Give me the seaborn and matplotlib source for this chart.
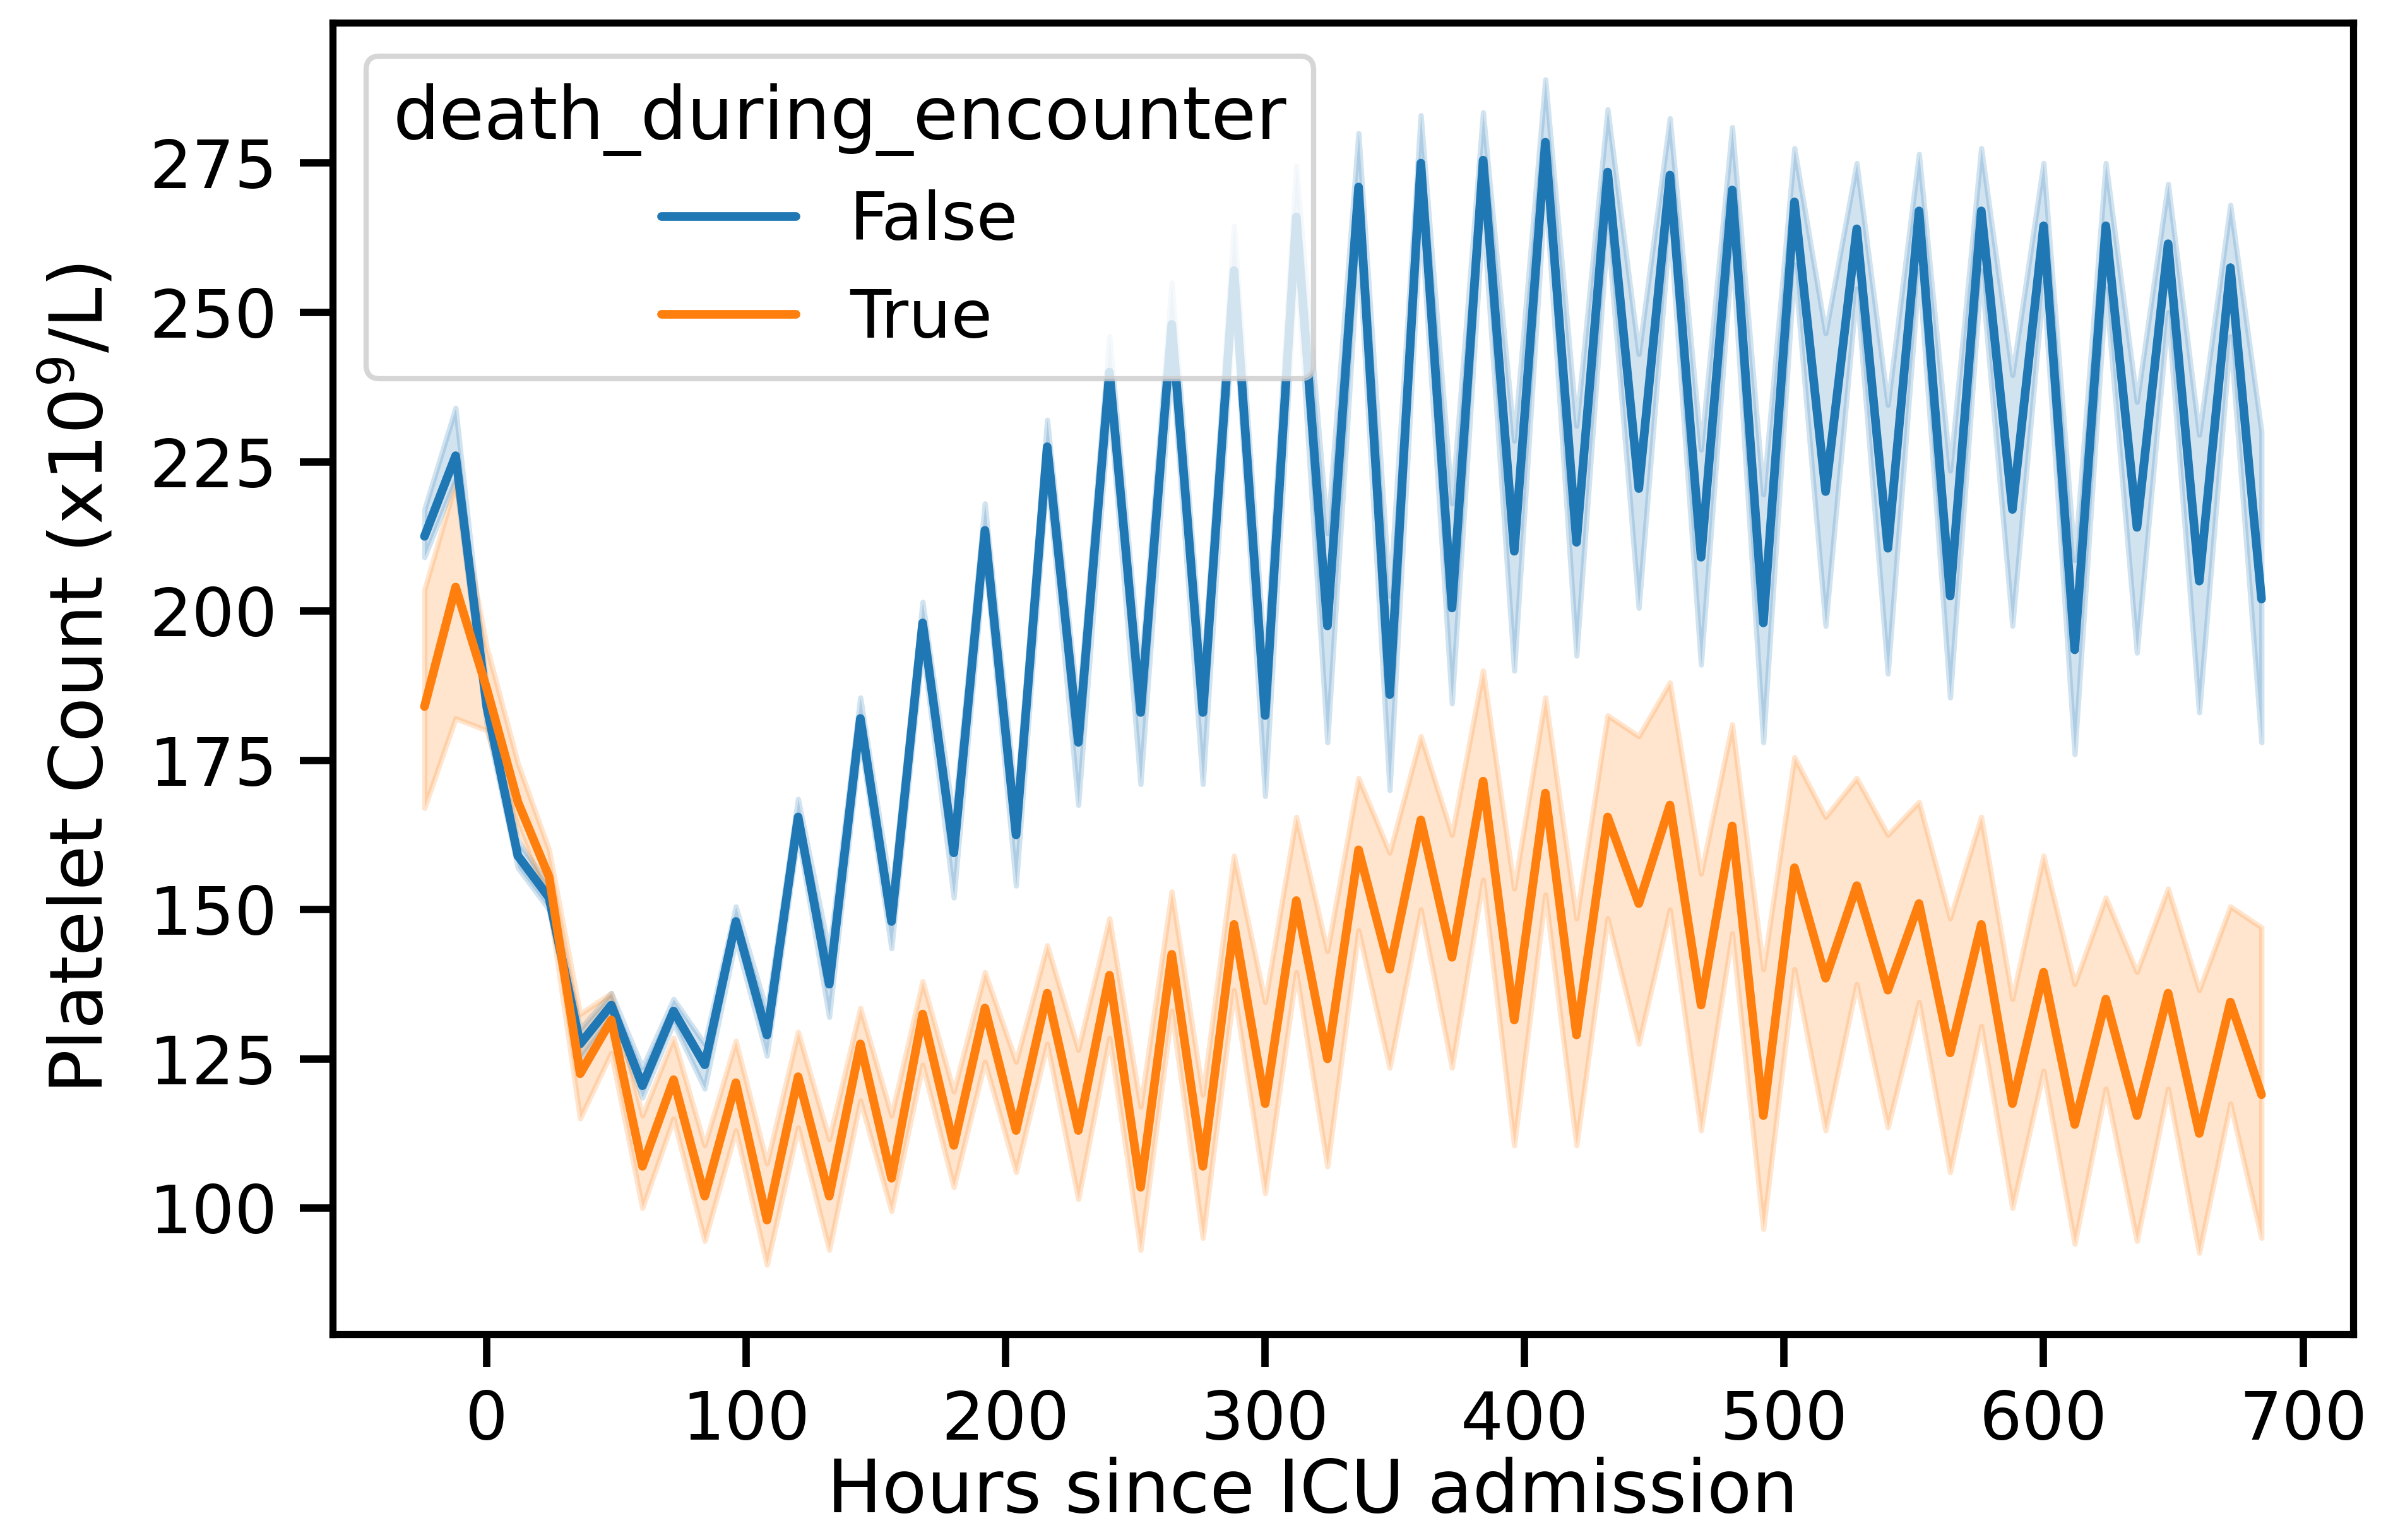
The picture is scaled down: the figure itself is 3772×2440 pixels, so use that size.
import matplotlib
matplotlib.use("Agg")
import matplotlib.pyplot as plt
import seaborn as sns
import pandas as pd

# Hours since ICU admission (12 h bins)
hours = [
    -24, -12, 0, 12, 24, 36, 48, 60, 72, 84,
    96, 108, 120, 132, 144, 156, 168, 180, 192, 204,
    216, 228, 240, 252, 264, 276, 288, 300, 312, 324,
    336, 348, 360, 372, 384, 396, 408, 420, 432, 444,
    456, 468, 480, 492, 504, 516, 528, 540, 552, 564,
    576, 588, 600, 612, 624, 636, 648, 660, 672, 684,
]

# death_during_encounter = False
alive_mean = [
    212.5, 226, 184, 159, 152, 127.5, 134, 120.5, 133, 124,
    148, 129, 165.5, 137.5, 182, 148, 198, 159.5, 213.5, 162.5,
    227.5, 178, 240, 183, 248, 183, 257, 182.5, 266, 197.5,
    271, 186, 275, 200.5, 275.5, 210, 278.5, 211.5, 273.5, 220.5,
    273, 209, 270.5, 198, 268.5, 220, 264, 210.5, 267, 202.5,
    267, 217, 264.5, 193.5, 264.5, 214, 261.5, 205, 257.5, 202,
]
alive_low = [
    209, 222, 181, 157, 150, 125, 132, 118.5, 131, 120,
    145, 125.5, 162.5, 132, 178.5, 143.5, 194, 152, 209.5, 154,
    223, 167.5, 234.5, 171, 242, 171, 252, 169, 259.5, 178,
    261, 170, 266, 184.5, 266.5, 190, 271, 192.5, 264, 200.5,
    264.5, 191, 260.5, 178, 258, 197.5, 254, 189.5, 257, 185.5,
    257, 197.5, 255, 176, 254, 193, 250, 183, 246, 178,
]
alive_high = [
    217, 234, 187, 161.5, 154, 130, 136, 123.5, 135, 127.5,
    150.5, 133, 168.5, 143, 185.5, 152.5, 201.5, 165, 218, 168,
    232, 183.5, 246, 189.5, 255, 189.5, 264.5, 191, 274.5, 213,
    280, 202.5, 283, 218, 283.5, 228.5, 289, 231, 284, 243,
    282.5, 227, 281, 219.5, 277.5, 246.5, 275, 234.5, 276.5, 223.5,
    277.5, 239.5, 275, 208.5, 275, 235, 271.5, 229.5, 268, 230,
]

# death_during_encounter = True
died_mean = [
    184, 204, 187, 168, 155.5, 122.5, 131.5, 107, 121.5, 102,
    121, 98, 122, 102, 127.5, 105, 132.5, 110.5, 133.5, 113,
    136, 113, 139, 103.5, 142.5, 107, 147.5, 117.5, 151.5, 125,
    160, 140, 165, 142, 171.5, 131.5, 169.5, 129, 165.5, 151,
    167.5, 134, 164, 115.5, 157, 138.5, 154, 136.5, 151, 126,
    147.5, 117.5, 139.5, 114, 135, 115.5, 136, 112.5, 134.5, 119,
]
died_low = [
    167, 182, 180, 164, 151, 115, 126, 100, 115, 94.5,
    113, 90.5, 113.5, 93, 118, 99.5, 124, 103.5, 124.5, 106,
    127.5, 101.5, 128.5, 93, 133, 95, 136.5, 102.5, 139.5, 107,
    146.5, 123.5, 150, 123.5, 155, 110.5, 152.5, 110.5, 148.5, 127.5,
    150, 113, 146, 96.5, 140, 113, 137.5, 113.5, 134.5, 106,
    130.5, 100, 123, 94, 120, 94.5, 120, 92.5, 117.5, 95,
]
died_high = [
    203.5, 221.5, 194, 174.5, 160, 132.5, 136, 115.5, 128.5, 110.5,
    128, 107.5, 129.5, 111.5, 133.5, 115.5, 138, 119.5, 139.5, 124.5,
    144, 126.5, 148.5, 117, 153, 119, 159, 134.5, 165.5, 143,
    172, 159.5, 179, 162.5, 190, 153.5, 185.5, 148.5, 182.5, 179,
    188, 156, 181, 140, 175.5, 165.5, 172, 162.5, 168, 148.5,
    165.5, 135, 159, 137.5, 152, 139.5, 153.5, 136.5, 150.5, 147,
]

groups = ["False", "True"]

# long table: low / mean / high per bin, so median = mean line
# and the 100% percentile interval = confidence band
rows = []
for group, low, mid, high in [
    ("False", alive_low, alive_mean, alive_high),
    ("True", died_low, died_mean, died_high),
]:
    for h, lo, m, hi in zip(hours, low, mid, high):
        for v in (lo, m, hi):
            rows.append({
                "hours": h,
                "platelets": v,
                "death_during_encounter": group,
            })
df = pd.DataFrame(rows)

sns.set_theme(context="poster", style="ticks", palette="tab10", font_scale=1.16)
plt.rcParams.update({
    "xtick.major.size": 12.5,
    "ytick.major.size": 12.5,
    "xtick.major.width": 2.8,
    "ytick.major.width": 2.8,
    "xtick.major.pad": 8.5,
    "ytick.major.pad": 8.5,
    "axes.linewidth": 2.7,
    "lines.linewidth": 3.3,
    "text.color": "black",
    "axes.labelcolor": "black",
    "axes.edgecolor": "black",
    "xtick.color": "black",
    "ytick.color": "black",
})

fig, ax = plt.subplots(figsize=(3772 / 300, 2440 / 300), dpi=300)
fig.subplots_adjust(left=0.1397, right=0.9884, bottom=0.1337, top=0.9852)

sns.lineplot(
    data=df,
    x="hours",
    y="platelets",
    hue="death_during_encounter",
    hue_order=groups,
    estimator="median",
    errorbar=("pi", 100),
    ax=ax,
)

ax.set_xlim(-59.4, 719.4)
ax.set_ylim(78.9, 298.5)
ax.set_xticks([0, 100, 200, 300, 400, 500, 600, 700])
ax.set_yticks([100, 125, 150, 175, 200, 225, 250, 275])

ax.set_xlabel("Hours since ICU admission", labelpad=1.2)
ax.xaxis.label.set_x(0.485)
ax.set_ylabel("Platelet Count (x10$^9$/L)", labelpad=12)

sns.move_legend(ax, "upper left", title="death_during_encounter")

fig.savefig("out.png", dpi=300)
plt.close(fig)
